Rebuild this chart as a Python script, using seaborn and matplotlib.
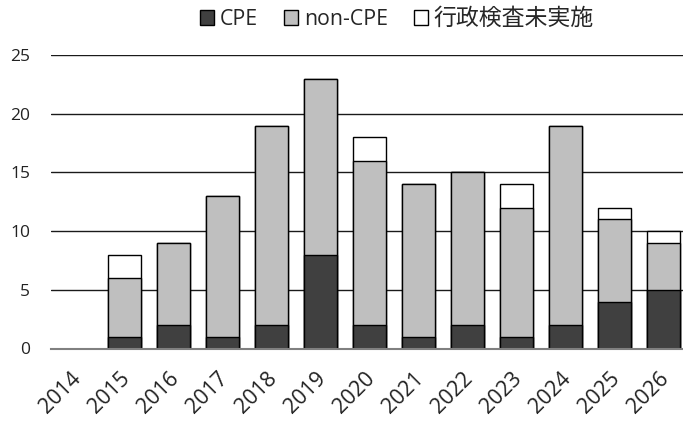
import pandas as pd
import matplotlib
matplotlib.use("Agg")
import matplotlib.pyplot as plt
import matplotlib.transforms as mtransforms
import seaborn as sns
from matplotlib.patches import Patch

sns.set_theme(style="white")
plt.rcParams['font.family'] = ['Open Sans', 'Noto Sans CJK JP', 'DejaVu Sans']

# data
years = ["2014", "2015", "2016", "2017", "2018", "2019", "2020",
         "2021", "2022", "2023", "2024", "2025", "2026"]
cpe = [0, 1, 2, 1, 2, 8, 2, 1, 2, 1, 2, 4, 5]
non_cpe = [0, 5, 7, 12, 17, 15, 14, 13, 13, 11, 17, 7, 4]
not_done = [0, 2, 0, 0, 0, 0, 2, 0, 0, 2, 0, 1, 1]
labels = ["CPE", "non-CPE", "行政検査未実施"]
colors = ["#404040", "#bfbfbf", "#ffffff"]


def main():
    df = pd.DataFrame({"year": years, "cpe": cpe, "non": non_cpe, "nd": not_done})
    df["lvl2"] = df["cpe"] + df["non"]
    df["total"] = df["lvl2"] + df["nd"]
    shown = df[df["total"] > 0]

    fig = plt.figure(figsize=(6.83, 4.21), dpi=100)
    ax = fig.add_axes([51 / 683, 72.5 / 421, 637 / 683, 294 / 421])

    # layered cumulative bars -> stacked look
    for col, c in [("total", colors[2]), ("lvl2", colors[1]), ("cpe", colors[0])]:
        sns.barplot(data=shown, x="year", y=col, order=years, color=c,
                    width=0.67, edgecolor="black", linewidth=1.0,
                    saturation=1, ax=ax, zorder=3)

    ax.set_ylim(0, 25.05)
    ax.set_xlim(-0.5, len(years) - 0.5)
    ax.set_yticks([0, 5, 10, 15, 20, 25])
    ax.yaxis.grid(True, color="#1a1a1a", linewidth=1.0, zorder=0)
    ax.set_axisbelow(True)
    for s in ["top", "right", "left"]:
        ax.spines[s].set_visible(False)
    ax.spines["bottom"].set_color("#808080")
    ax.spines["bottom"].set_linewidth(1.5)
    ax.spines["bottom"].set_zorder(4)
    ax.set_xlabel("")
    ax.set_ylabel("")
    ax.tick_params(axis="y", length=0, pad=15, labelsize=12.5, colors="#222222")
    ax.tick_params(axis="x", length=0, pad=14, labelsize=15.5, colors="#222222")
    shift = mtransforms.ScaledTranslation(-5 / 100, 0, fig.dpi_scale_trans)
    for t in ax.get_xticklabels():
        t.set_rotation(45)
        t.set_ha("right")
        t.set_va("top")
        t.set_rotation_mode("anchor")
        t.set_transform(t.get_transform() + shift)

    handles = [Patch(facecolor=c, edgecolor="black", linewidth=1.0) for c in colors]
    leg = fig.legend(handles, labels, loc="center", bbox_to_anchor=(397 / 683, 1 - 19 / 421),
                     ncol=3, frameon=False, fontsize=15.3, handlelength=0.66,
                     handleheight=0.66, handletextpad=0.25, columnspacing=1.25)
    leg.get_texts()[2].set_fontsize(16.5)

    fig.savefig("out.png", dpi=100)
    plt.close(fig)


if __name__ == '__main__':
    main()
